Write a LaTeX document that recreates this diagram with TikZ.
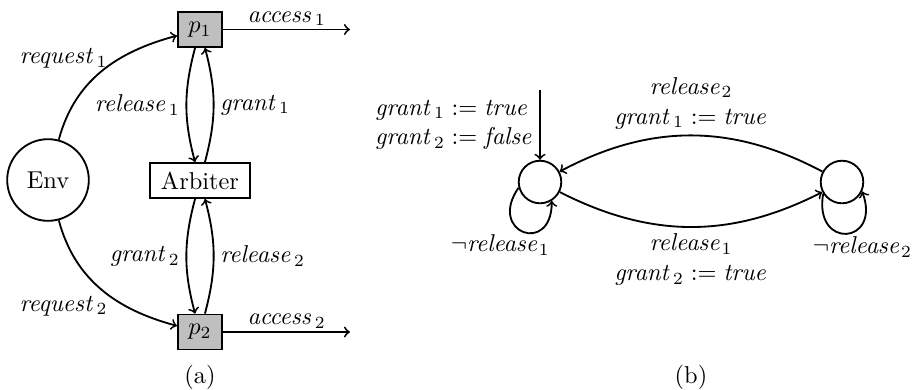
\RequirePackage{fix-cm}
\documentclass[tikz,border=0pt]{standalone}
\usetikzlibrary{arrows.meta}
\newcommand{\gsub}[2]{\mathit{#1}\mkern1.5mu_{#2}}
\begin{document}
\begin{tikzpicture}[x=0.43478pt,y=0.43478pt, thick, >=to,
  font=\fontsize{10.6}{13}\selectfont,
  box/.style={draw, rectangle, minimum height=15.2pt, inner xsep=4.6pt, inner ysep=3pt},
  pbox/.style={box, fill=black!25, minimum width=19pt},
  envc/.style={draw, circle, minimum size=35.5pt, inner sep=0pt},
  state/.style={draw, circle, minimum size=18.5pt, inner sep=0pt},
  lab/.style={inner sep=2.5pt}]
\useasboundingbox (0,0) rectangle (912,-389);

% ---------- (a) ----------
\node[envc] (env) at (48,-180) {Env};
\node[pbox] (p1) at (200,-29.5) {$p_1$};
\node[box] (arb) at (200,-180.5) {Arbiter};
\node[pbox] (p2) at (200,-332) {$p_2$};
\coordinate (a1) at (350,-29.5);
\coordinate (a2) at (350,-332);

\draw[->] (p1) -- node[above, inner sep=1.2pt] {$\gsub{access}{1}$} (a1);
\draw[->] (p2) -- node[above, inner sep=1.2pt] {$\gsub{access}{2}$} (a2);
\draw[->] (env) to[out=75, in=195] node[pos=0.5, above left, inner sep=1pt, xshift=4pt] {$\gsub{request}{1}$} (p1);
\draw[->] (env) to[out=-75, in=165] node[pos=0.5, below left, inner sep=1pt, xshift=4pt, yshift=-1.5pt] {$\gsub{request}{2}$} (p2);
\draw[->] (p1) to[bend right=15] node[lab, left] {$\gsub{release}{1}$} (arb);
\draw[->] (arb) to[bend right=15] node[lab, right] {$\gsub{grant}{1}$} (p1);
\draw[->] (arb) to[bend right=15] node[lab, left] {$\gsub{grant}{2}$} (p2);
\draw[->] (p2) to[bend right=15] node[lab, right] {$\gsub{release}{2}$} (arb);
\node (capa) at (200,-377) {(a)};

% ---------- (b) ----------
\node[state] (s0) at (540,-182) {};
\node[state] (s1) at (842,-182) {};
\coordinate (init) at (540,-90);
\draw[->] (init) -- node[lab, left, align=left] {$\gsub{grant}{1} := \mathit{true}$\\$\gsub{grant}{2} := \mathit{false}$} (s0);
\draw[->] (s1) to[bend right=28] node[lab, above, align=center] {$\mathit{release}_2$\\$\gsub{grant}{1} := \mathit{true}$} (s0);
\draw[->] (s0) to[bend right=27] node[lab, below, align=center] {$\mathit{release}_1$\\$\gsub{grant}{2} := \mathit{true}$} (s1);
\draw[->] (s0.195) .. controls +(235:55) and +(270:55) .. node[pos=0.5, below, inner sep=1pt, xshift=-10pt] {$\neg\mathit{release}_1$} (s0.302);
\draw[->] (s1.212) .. controls +(260:57) and +(290:57) .. node[pos=0.5, below, inner sep=1pt, xshift=7pt] {$\neg\mathit{release}_2$} (s1.335);
\node (capb) at (691,-377) {(b)};
\end{tikzpicture}
\end{document}
